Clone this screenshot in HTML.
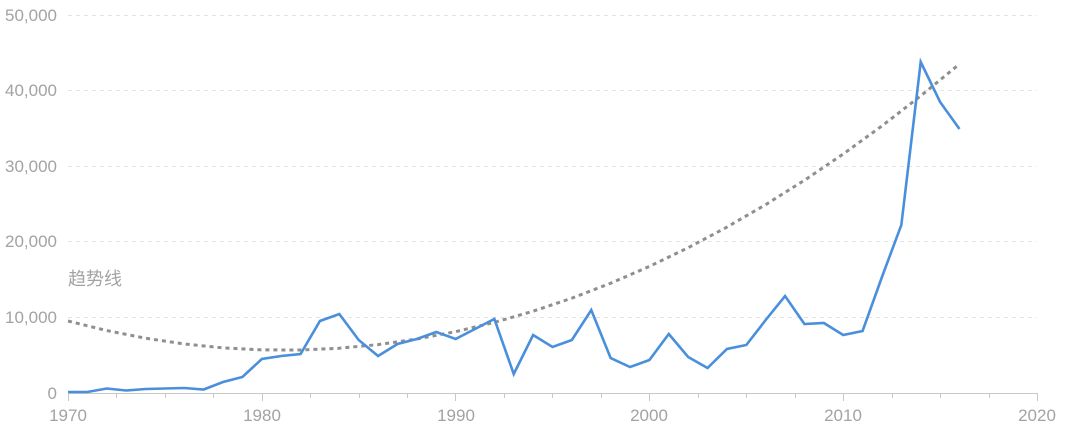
<!DOCTYPE html>
<html><head><meta charset="utf-8"><style>
html,body{margin:0;padding:0;background:#fff;}
svg{display:block;}
text{font-family:"Liberation Sans","Noto Sans CJK SC",sans-serif;fill:#a3a3a3;}
</style></head><body>
<svg width="1080" height="426" viewBox="0 0 1080 426" xmlns="http://www.w3.org/2000/svg">
<g stroke="#e3e3e3" stroke-width="1" stroke-dasharray="4 4">
<line x1="68" y1="15.5" x2="1037" y2="15.5"/>
<line x1="68" y1="90.5" x2="1037" y2="90.5"/>
<line x1="68" y1="166.5" x2="1037" y2="166.5"/>
<line x1="68" y1="241.5" x2="1037" y2="241.5"/>
<line x1="68" y1="317.5" x2="1037" y2="317.5"/>
</g>
<g font-size="17" text-anchor="end">
<text x="57" y="21">50,000</text>
<text x="57" y="96">40,000</text>
<text x="57" y="172">30,000</text>
<text x="57" y="247">20,000</text>
<text x="57" y="323">10,000</text>
<text x="57" y="399">0</text>
</g>
<line x1="68" y1="393.5" x2="1037" y2="393.5" stroke="#c8c8c8" stroke-width="1"/>
<g stroke="#c8c8c8" stroke-width="1">
<line x1="68.5" y1="393" x2="68.5" y2="401"/>
<line x1="116.5" y1="393" x2="116.5" y2="398"/>
<line x1="165.5" y1="393" x2="165.5" y2="398"/>
<line x1="213.5" y1="393" x2="213.5" y2="398"/>
<line x1="262.5" y1="393" x2="262.5" y2="401"/>
<line x1="310.5" y1="393" x2="310.5" y2="398"/>
<line x1="359.5" y1="393" x2="359.5" y2="398"/>
<line x1="407.5" y1="393" x2="407.5" y2="398"/>
<line x1="455.5" y1="393" x2="455.5" y2="401"/>
<line x1="504.5" y1="393" x2="504.5" y2="398"/>
<line x1="552.5" y1="393" x2="552.5" y2="398"/>
<line x1="601.5" y1="393" x2="601.5" y2="398"/>
<line x1="649.5" y1="393" x2="649.5" y2="401"/>
<line x1="698.5" y1="393" x2="698.5" y2="398"/>
<line x1="746.5" y1="393" x2="746.5" y2="398"/>
<line x1="795.5" y1="393" x2="795.5" y2="398"/>
<line x1="843.5" y1="393" x2="843.5" y2="401"/>
<line x1="892.5" y1="393" x2="892.5" y2="398"/>
<line x1="940.5" y1="393" x2="940.5" y2="398"/>
<line x1="989.5" y1="393" x2="989.5" y2="398"/>
<line x1="1037.5" y1="393" x2="1037.5" y2="401"/>
</g>
<g font-size="17" text-anchor="middle">
<text x="68" y="421">1970</text>
<text x="262" y="421">1980</text>
<text x="456" y="421">1990</text>
<text x="649" y="421">2000</text>
<text x="843" y="421">2010</text>
<text x="1037" y="421">2020</text>
</g>
<text x="68" y="285" font-size="18">趋势线</text>
<polyline fill="none" stroke="#8f8f8f" stroke-width="3" stroke-dasharray="4 4" points="68,321 106.76,330.54 145.52,338.2 184.28,343.98 223.04,347.87 261.8,349.88 300.56,350 339.32,348.24 378.08,344.61 416.84,339.08 455.6,331.67 494.36,322.39 533.12,311.21 571.88,298.15 610.64,283.22 649.4,266.39 688.16,247.68 726.92,227.1 765.68,204.62 804.44,180.26 843.2,154.03 881.96,125.9 920.72,95.89 959.48,64"/>
<polyline fill="none" stroke="#4a8fdb" stroke-width="2.6" stroke-linejoin="miter" points="68,392 87.38,392 106.76,388.5 126.14,390.5 145.52,389 164.9,388.5 184.28,388 203.66,389.5 223.04,382 242.42,377 261.8,359 281.18,356 300.56,354 319.94,321 339.32,314 358.7,340 378.08,356 397.46,344 416.84,339 436.22,332 455.6,339 474.98,329 494.36,319 513.74,374 533.12,335 552.5,347 571.88,340 591.26,310 610.64,358 630.02,367 649.4,360 668.78,334 688.16,357 707.54,368 726.92,349 746.3,345 765.68,320 785.06,296 804.44,324 823.82,323 843.2,335 862.58,331 881.96,277 901.34,225 920.72,62 940.1,102 959.48,129"/>
</svg>
</body></html>
